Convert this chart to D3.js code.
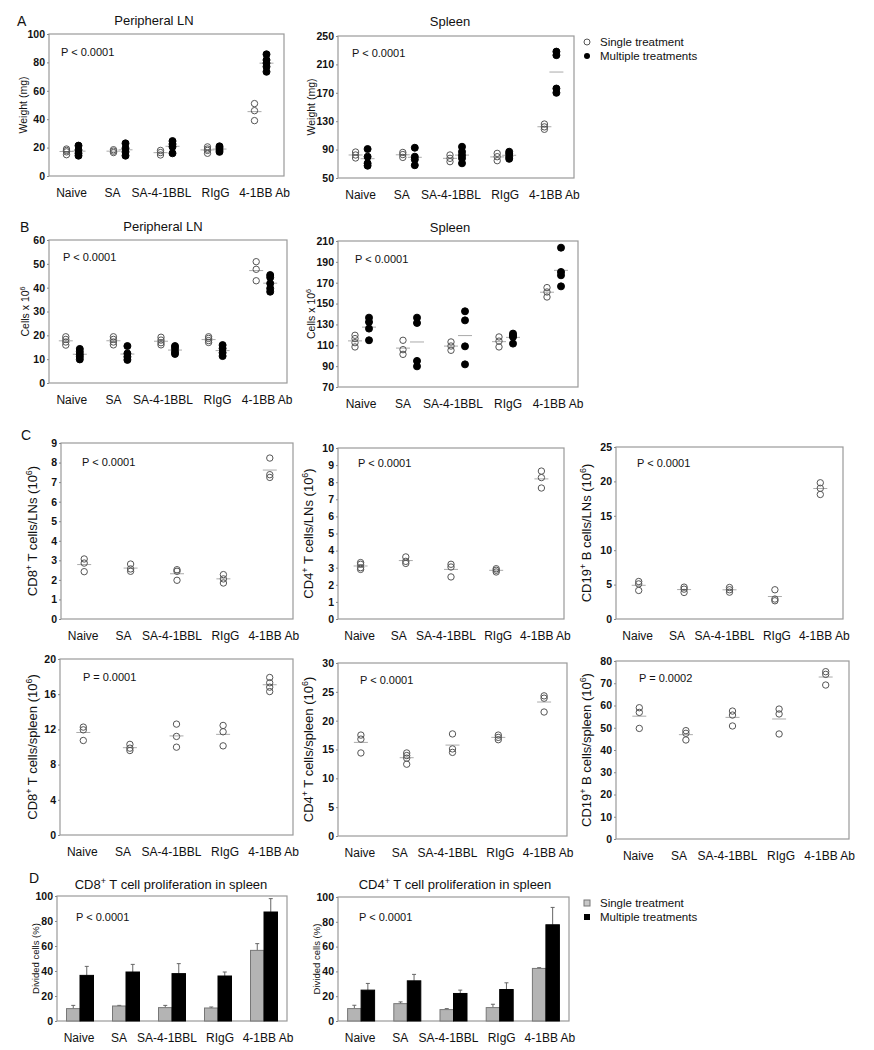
<!DOCTYPE html>
<html>
<head>
<meta charset="utf-8">
<script src="https://cdn.jsdelivr.net/npm/d3@7"></script>
<style>
  body { margin: 0; background: #fff; }
  svg text { font-family: "Liberation Sans", Arial, sans-serif; fill: #111; }
</style>
</head>
<body>
<div id="chart"></div>
<script>
// groups shared by every panel
var groups = ["Naive", "SA", "SA-4-1BBL", "RIgG", "4-1BB Ab"];

// A - organ weight (mg)
var lnWeightSingle = [[19, 18, 17, 15], [18.5, 17.5, 16.5], [18, 16.5, 14.8], [20.5, 19, 18, 16], [51, 46, 39]];
var lnWeightMulti = [[21.4, 18.3, 16, 14.3], [23, 19.5, 17, 14.3], [24.6, 22.5, 20.6, 16], [20.9, 19.7, 18.3, 17], [85.7, 81.7, 79.5, 77, 73.4]];
var spWeightSingle = [[86.6, 82.4, 78.2], [86, 83, 79], [82.4, 77.7, 73], [84.7, 80, 74.4], [126, 122, 118.6]];
var spWeightMulti = [[90.8, 80, 70.7, 67.3], [92.6, 80, 76, 68], [94, 87, 82, 77.7, 70.7], [87, 84, 80, 77], [228, 223, 176, 170]];
var lnWeightTicks = [0, 20, 40, 60, 80, 100];
var spWeightTicks = [50, 90, 130, 170, 210, 250];

// B - cell numbers (x 10^6)
var lnCellsSingle = [[19.4, 18.3, 17.2, 15.9], [19.4, 18.3, 17.2, 16], [19.2, 18, 16.9, 16], [19.4, 18.7, 17.8, 17], [50.9, 47.7, 42.9]];
var lnCellsMulti = [[14.3, 13.1, 12, 11, 9.9], [15.5, 12.4, 11, 9.7], [15.5, 14.5, 13.1, 12.2], [15.9, 14.5, 12.7, 11.3], [45.3, 44.3, 41.8, 39.7, 38.3]];
var spCellsSingle = [[119.6, 116.4, 112.5, 108.4], [114.8, 105.8, 101.3], [113.2, 109.3, 105.2], [118, 114, 108.4], [165.3, 161.1, 156.3]];
var spCellsMulti = [[136.5, 132.3, 126, 114.8], [136.5, 131.4, 95, 89.8], [142.6, 133.9, 109, 91.7], [121.2, 119.6, 118, 111.6], [203.6, 180.3, 177.1, 166.5]];
var lnCellsTicks = [0, 10, 20, 30, 40, 50, 60];
var spCellsTicks = [70, 90, 110, 130, 150, 170, 190, 210];

// C - subsets (10^6), single treatment
var cd8Ln = [[3.07, 2.86, 2.42], [2.81, 2.56, 2.44], [2.52, 2.44, 1.98], [2.27, 2.05, 1.84], [8.23, 7.38, 7.24]];
var cd4Ln = [[3.3, 3.2, 3.0, 2.9], [3.63, 3.37, 3.25], [3.2, 3.04, 2.46], [2.94, 2.85, 2.75], [8.65, 8.27, 7.66]];
var cd19Ln = [[5.45, 5.1, 4.15], [4.63, 4.34, 3.86], [4.58, 4.25, 3.9], [4.25, 2.9, 2.65], [19.8, 19.0, 18.1]];
var cd8Sp = [[12.26, 11.95, 10.74], [10.3, 9.87, 9.6], [12.6, 11.2, 9.98], [12.45, 11.73, 10.13], [17.9, 17.3, 16.8, 16.3]];
var cd4Sp = [[17.5, 16.8, 14.4], [14.4, 13.95, 13.5, 12.45], [17.7, 15.1, 14.5], [17.5, 17.1, 16.7], [24.3, 23.9, 21.5]];
var cd19Sp = [[59, 56.9, 49.7], [48.7, 47.5, 44.5], [57.5, 55.7, 50.8], [58.4, 56.2, 47.2], [75.2, 74, 69.2]];
var cd8LnTicks = [0, 1, 2, 3, 4, 5, 6, 7, 8, 9];
var cd4LnTicks = [0, 1, 2, 3, 4, 5, 6, 7, 8, 9, 10];
var cd19LnTicks = [0, 5, 10, 15, 20, 25];
var cd8SpTicks = [0, 4, 8, 12, 16, 20];
var cd4SpTicks = [0, 5, 10, 15, 20, 25, 30];
var cd19SpTicks = [0, 10, 20, 30, 40, 50, 60, 70, 80];

// D - divided cells (%), mean and upper error
var cd8DivSingle = [9.9, 12, 10.7, 10.4, 56.5];
var cd8DivSingleErr = [2.6, 0.5, 1.8, 0.8, 5.4];
var cd8DivMulti = [36.5, 39.2, 37.9, 36, 87.2];
var cd8DivMultiErr = [7.2, 6.1, 8, 3.2, 10.7];
var cd4DivSingle = [10, 14, 9.2, 10.8, 42.4];
var cd4DivSingleErr = [2.7, 1.4, 0.8, 2.7, 0.6];
var cd4DivMulti = [24.9, 32.4, 22.2, 25.4, 77.6];
var cd4DivMultiErr = [5.4, 5.2, 2.7, 5.4, 14];
var divTicks = [0, 20, 40, 60, 80, 100];

// small nudges of the category labels, as in the original figure
var labelShift = [-1, -7, -5, 2, 4];

var svg = d3.select("#chart").append("svg")
    .attr("width", 874)
    .attr("height", 1050);

function addText(x, y, str, size, anchor) {
    return svg.append("text")
        .attr("x", x).attr("y", y)
        .attr("font-size", size)
        .attr("text-anchor", anchor || "start")
        .text(str);
}

// rotated axis title, parts = [[text, isSup], ...]
function yTitle(x, cy, parts, size) {
    var t = svg.append("text")
        .attr("transform", "translate(" + x + "," + cy + ") rotate(-90)")
        .attr("text-anchor", "middle")
        .attr("font-size", size);
    parts.forEach(function (p) {
        var s = t.append("tspan").text(p[0]);
        if (p[1]) s.attr("baseline-shift", "super").attr("font-size", size * 0.68);
    });
}

function frameAndAxes(p) {
    var x = d3.scaleBand().domain(groups).range([p.x0, p.x1]);
    var y = d3.scaleLinear().domain([p.ticks[0], p.ticks[p.ticks.length - 1]]).range([p.y1, p.y0]);

    svg.append("rect")
        .attr("x", p.x0).attr("y", p.y0)
        .attr("width", p.x1 - p.x0).attr("height", p.y1 - p.y0)
        .attr("fill", "none").attr("stroke", "#9a9a9a").attr("stroke-width", 1.2);

    var ax = svg.append("g")
        .attr("transform", "translate(" + p.x0 + ",0)")
        .call(d3.axisLeft(y).tickValues(p.ticks).tickSize(2).tickPadding(2));
    ax.select(".domain").remove();
    ax.selectAll(".tick line").attr("stroke", "#888");
    ax.selectAll(".tick text")
        .attr("font-size", 10.5)
        .attr("font-weight", "bold")
        .attr("font-family", "'Liberation Sans', Arial, sans-serif");

    groups.forEach(function (g, i) {
        addText(x(g) + x.bandwidth() / 2 + labelShift[i], p.y1 + 21, g, 12, "middle");
    });

    if (p.pval) addText(p.px, p.py, p.pval, 11);
    if (p.title) addText(p.tx, p.ty, p.title, 13, "middle");
    yTitle(p.lx, (p.y0 + p.y1) / 2, p.ylab, p.lsize || 10.5);
    return { x: x, y: y };
}

function dotPanel(p) {
    var s = frameAndAxes(p);
    p.series.forEach(function (ser) {
        groups.forEach(function (g, i) {
            var cx = s.x(g) + s.x.bandwidth() / 2 + ser.dx;
            var vals = ser.data[i];
            var m = d3.mean(vals);
            svg.append("line")
                .attr("x1", cx - 7).attr("x2", cx + 7)
                .attr("y1", s.y(m)).attr("y2", s.y(m))
                .attr("stroke", "#aaa").attr("stroke-width", 1);
            svg.selectAll(null).data(vals).enter().append("circle")
                .attr("cx", cx)
                .attr("cy", function (d) { return s.y(d); })
                .attr("r", ser.filled ? 3.5 : 3.2)
                .attr("fill", ser.filled ? "#000" : "#fff")
                .attr("fill-opacity", ser.filled ? 1 : 0)
                .attr("stroke", ser.filled ? "#000" : "#555")
                .attr("stroke-width", 1);
        });
    });
}

function barPanel(p) {
    var s = frameAndAxes(p);
    var bw = 13.5;
    p.series.forEach(function (ser, k) {
        groups.forEach(function (g, i) {
            var bx = s.x(g) + s.x.bandwidth() / 2 + (k === 0 ? -bw : 0);
            var v = ser.data[i];
            var top = s.y(v + ser.err[i]);
            svg.append("line")
                .attr("x1", bx + bw / 2).attr("x2", bx + bw / 2)
                .attr("y1", s.y(v)).attr("y2", top)
                .attr("stroke", "#666").attr("stroke-width", 1);
            svg.append("line")
                .attr("x1", bx + bw / 2 - 2).attr("x2", bx + bw / 2 + 2)
                .attr("y1", top).attr("y2", top)
                .attr("stroke", "#666").attr("stroke-width", 1);
            svg.append("rect")
                .attr("x", bx).attr("y", s.y(v))
                .attr("width", bw).attr("height", s.y(0) - s.y(v))
                .attr("fill", ser.color)
                .attr("stroke", k === 0 ? "#777" : "#000")
                .attr("stroke-width", 1);
        });
    });
}

var cellsLab = [["Cells x 10", false], ["6", true]];

// panel letters
addText(17, 26, "A", 14);
addText(20, 232, "B", 14);
addText(21, 440, "C", 14);
addText(29, 883, "D", 14);

dotPanel({
    x0: 49, x1: 284, y0: 34, y1: 176, ticks: lnWeightTicks,
    title: "Peripheral LN", tx: 154, ty: 25, pval: "P < 0.0001", px: 61, py: 56,
    lx: 27, ylab: [["Weight (mg)", false]],
    series: [{ data: lnWeightSingle, dx: -6 }, { data: lnWeightMulti, dx: 6, filled: true }]
});
dotPanel({
    x0: 338, x1: 574, y0: 36, y1: 178, ticks: spWeightTicks,
    title: "Spleen", tx: 450, ty: 26, pval: "P < 0.0001", px: 352, py: 57,
    lx: 315, ylab: [["Weight (mg)", false]],
    series: [{ data: spWeightSingle, dx: -6 }, { data: spWeightMulti, dx: 6, filled: true }]
});

dotPanel({
    x0: 49, x1: 287, y0: 240, y1: 383, ticks: lnCellsTicks,
    title: "Peripheral LN", tx: 163, ty: 231, pval: "P < 0.0001", px: 63, py: 261,
    lx: 29, ylab: cellsLab,
    series: [{ data: lnCellsSingle, dx: -7 }, { data: lnCellsMulti, dx: 7, filled: true }]
});
dotPanel({
    x0: 338, x1: 578, y0: 241, y1: 387, ticks: spCellsTicks,
    title: "Spleen", tx: 450, ty: 232, pval: "P < 0.0001", px: 355, py: 263,
    lx: 315, ylab: cellsLab,
    series: [{ data: spCellsSingle, dx: -7 }, { data: spCellsMulti, dx: 7, filled: true }]
});

// legend for A
svg.append("circle").attr("cx", 587).attr("cy", 42).attr("r", 3).attr("fill", "none").attr("stroke", "#555");
svg.append("circle").attr("cx", 587).attr("cy", 56).attr("r", 3).attr("fill", "#000");
addText(600, 46, "Single treatment", 11.5);
addText(600, 60, "Multiple treatments", 11.5);

function subsetLab(cd, rest) {
    return [["CD" + cd, false], ["+", true], [rest + " (10", false], ["6", true], [")", false]];
}

var cSingle = function (d) { return [{ data: d, dx: 0 }]; };

dotPanel({ x0: 61, x1: 293, y0: 443, y1: 619, ticks: cd8LnTicks, pval: "P < 0.0001", px: 82, py: 466,
    lx: 37, lsize: 13, ylab: subsetLab(8, " T cells/LNs"), series: cSingle(cd8Ln) });
dotPanel({ x0: 338, x1: 564, y0: 448, y1: 619, ticks: cd4LnTicks, pval: "P < 0.0001", px: 358, py: 467,
    lx: 313, lsize: 13, ylab: subsetLab(4, " T cells/LNs"), series: cSingle(cd4Ln) });
dotPanel({ x0: 616, x1: 843, y0: 447, y1: 619, ticks: cd19LnTicks, pval: "P < 0.0001", px: 637, py: 467,
    lx: 591, lsize: 13, ylab: subsetLab(19, " B cells/LNs"), series: cSingle(cd19Ln) });
dotPanel({ x0: 60, x1: 293, y0: 659, y1: 835, ticks: cd8SpTicks, pval: "P = 0.0001", px: 83, py: 681,
    lx: 37, lsize: 13, ylab: subsetLab(8, " T cells/spleen"), series: cSingle(cd8Sp) });
dotPanel({ x0: 338, x1: 567, y0: 663, y1: 836, ticks: cd4SpTicks, pval: "P < 0.0001", px: 360, py: 684,
    lx: 313, lsize: 13, ylab: subsetLab(4, " T cells/spleen"), series: cSingle(cd4Sp) });
dotPanel({ x0: 616, x1: 849, y0: 661, y1: 839, ticks: cd19SpTicks, pval: "P = 0.0002", px: 639, py: 682,
    lx: 591, lsize: 13, ylab: subsetLab(19, " B cells/spleen"), series: cSingle(cd19Sp) });

barPanel({
    x0: 57, x1: 287, y0: 896, y1: 1021, ticks: divTicks,
    pval: "P < 0.0001", px: 76, py: 921, lx: 39, lsize: 9.5, ylab: [["Divided cells (%)", false]],
    series: [{ data: cd8DivSingle, err: cd8DivSingleErr, color: "#b4b4b4" },
             { data: cd8DivMulti, err: cd8DivMultiErr, color: "#000" }]
});
barPanel({
    x0: 338, x1: 569, y0: 897, y1: 1021, ticks: divTicks,
    pval: "P < 0.0001", px: 359, py: 921, lx: 320, lsize: 9.5, ylab: [["Divided cells (%)", false]],
    series: [{ data: cd4DivSingle, err: cd4DivSingleErr, color: "#b4b4b4" },
             { data: cd4DivMulti, err: cd4DivMultiErr, color: "#000" }]
});

// D titles with superscript
function supTitle(x, y, cd) {
    var t = svg.append("text").attr("x", x).attr("y", y).attr("font-size", 13).attr("text-anchor", "middle");
    t.append("tspan").text("CD" + cd);
    t.append("tspan").text("+").attr("baseline-shift", "super").attr("font-size", 9);
    t.append("tspan").text(" T cell proliferation in spleen");
}
supTitle(171, 889, 8);
supTitle(455, 889, 4);

// legend for D
svg.append("rect").attr("x", 584).attr("y", 900).attr("width", 6).attr("height", 6).attr("fill", "#c8c8c8").attr("stroke", "#777");
svg.append("rect").attr("x", 584).attr("y", 914).attr("width", 6).attr("height", 6).attr("fill", "#000");
addText(600, 907, "Single treatment", 11.5);
addText(600, 921, "Multiple treatments", 11.5);
</script>
</body>
</html>
